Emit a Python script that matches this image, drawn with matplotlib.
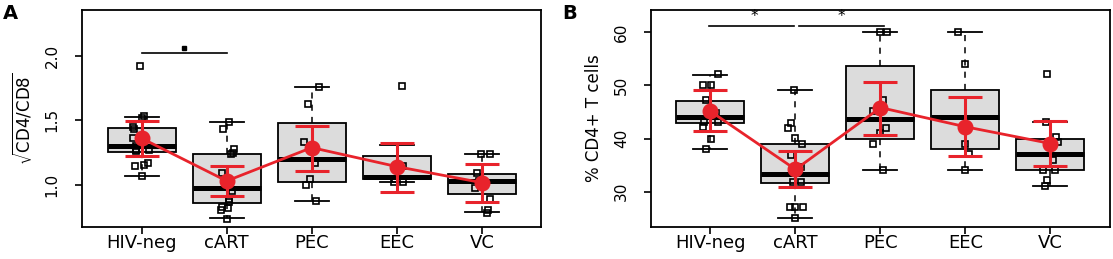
import matplotlib
matplotlib.use("Agg")
import matplotlib.pyplot as plt
import numpy as np

groups = ["HIV-neg", "cART", "PEC", "EEC", "VC"]

# panel A: sqrt(CD4/CD8)
a_pts = [
    [1.92, 1.534, 1.52, 1.45, 1.43, 1.36, 1.30, 1.27, 1.27, 1.26, 1.17, 1.155, 1.147, 1.07],
    [1.49, 1.43, 1.28, 1.245, 1.24, 1.09, 0.95, 0.89, 0.87, 0.83, 0.81, 0.82, 0.74],
    [1.76, 1.626, 1.335, 1.168, 1.05, 1.0, 0.876],
    [1.768, 1.15, 1.05, 1.026, 1.02],
    [1.237, 1.237, 1.09, 1.03, 0.974, 0.889, 0.81, 0.78],
]
a_jit = [
    [-0.02, 0.03, 0.01, -0.10, -0.09, -0.10, -0.06, -0.06, 0.09, -0.06, 0.08, 0.03, -0.08, 0.0],
    [0.03, -0.04, 0.09, 0.07, 0.05, -0.05, 0.06, 0.03, 0.03, -0.06, -0.07, 0.01, 0.0],
    [0.09, -0.04, -0.09, 0.035, -0.02, -0.07, 0.05],
    [0.06, 0.07, -0.02, 0.07, -0.035],
    [-0.015, 0.09, -0.055, -0.04, -0.08, 0.09, 0.075, 0.055],
]
a_q1 = [1.258, 0.863, 1.026, 1.046, 0.928]
a_med = [1.304, 0.974, 1.20, 1.064, 1.031]
a_q3 = [1.443, 1.237, 1.477, 1.227, 1.085]
a_wlo = [1.072, 0.742, 0.876, 1.026, 0.789]
a_whi = [1.528, 1.485, 1.76, 1.31, 1.237]
a_mean = [1.361, 1.031, 1.289, 1.142, 1.018]
a_lo = [1.227, 0.918, 1.111, 0.943, 0.866]
a_hi = [1.497, 1.149, 1.456, 1.327, 1.16]

# panel B: % CD4+ T cells
b_pts = [
    [52.06, 50, 50, 47.2, 44.7, 43.1, 43.1, 42.2, 40, 38],
    [49.06, 43, 42.06, 40.1, 39, 36.9, 34.7, 31.9, 31.9, 27.06, 27.06, 27.06, 25],
    [60, 60, 47.2, 45.1, 42.06, 41.06, 39.06, 34.06],
    [60, 54.06, 39.06, 37.06, 34.06],
    [52.06, 43.1, 40.3, 39.4, 35.9, 34, 34, 32.2, 31.06],
]
b_jit = [
    [0.09, -0.09, 0.01, -0.05, 0.07, -0.08, 0.09, -0.09, 0.01, -0.05],
    [-0.02, -0.05, -0.09, 0.0, 0.08, -0.05, 0.07, 0.07, -0.03, -0.07, 0.09, 0.0, 0.0],
    [0.0, 0.08, 0.03, -0.09, 0.07, 0.0, -0.09, 0.03],
    [-0.09, 0.0, 0.0, 0.04, 0.0],
    [-0.04, -0.05, 0.07, 0.09, 0.03, -0.09, 0.05, -0.04, -0.07],
]
b_q1 = [43, 31.6, 40, 38, 34.06]
b_med = [44.06, 33.25, 43.6, 44.06, 37.06]
b_q3 = [47, 39, 53.56, 49.06, 40]
b_wlo = [38, 25, 34.06, 34.06, 31.06]
b_whi = [52, 49.06, 60, 60, 43.1]
b_mean = [45.1, 34.2, 45.8, 42.2, 39.06]
b_lo = [41.4, 30.9, 40.75, 36.7, 34.9]
b_hi = [49.06, 37.6, 50.6, 47.7, 43.3]

RED = "#e8232b"

fig = plt.figure(figsize=(11.13, 2.59), dpi=100)
axA = fig.add_axes([0.0737, 0.1236, 0.4128, 0.8397])
axB = fig.add_axes([0.5849, 0.1236, 0.4124, 0.8397])

def panel(ax, pts, jit, q1, med, q3, wlo, whi, mean, lo, hi):
    x = np.arange(1, len(groups) + 1)
    stats = []
    for i in range(len(groups)):
        stats.append(dict(med=med[i], q1=q1[i], q3=q3[i], whislo=wlo[i], whishi=whi[i], fliers=[]))
    ax.bxp(stats, positions=x, widths=0.8, patch_artist=True, showfliers=False,
           boxprops=dict(facecolor="#dcdcdc", edgecolor="black", linewidth=1.3),
           medianprops=dict(color="black", linewidth=3.6),
           whiskerprops=dict(color="black", linewidth=1.1, linestyle=(0, (4, 4))),
           capprops=dict(color="black", linewidth=1.3), capwidths=0.4, zorder=1)
    for i in range(len(groups)):
        ax.plot(x[i] + np.array(jit[i]), pts[i], "s", mfc="none", mec="black",
                ms=5, mew=1.2, zorder=2)
    m = np.array(mean)
    ax.errorbar(x, m, yerr=[m - np.array(lo), np.array(hi) - m], color=RED, lw=2,
                elinewidth=2.2, capsize=12, capthick=2.2, marker="o", ms=10.5, zorder=3)
    ax.set_xlim(0.3, 5.7)
    ax.set_xticks(x)
    ax.set_xticklabels(groups, fontsize=13)
    ax.tick_params(axis="x", length=5, width=1.2, pad=0)
    ax.tick_params(axis="y", length=5, width=1.2, pad=11, labelsize=11)
    for s in ax.spines.values():
        s.set_linewidth(1.3)

panel(axA, a_pts, a_jit, a_q1, a_med, a_q3, a_wlo, a_whi, a_mean, a_lo, a_hi)
axA.set_ylim(0.675, 2.357)
axA.set_yticks([1.0, 1.5, 2.0])
axA.set_yticklabels(["1.0", "1.5", "2.0"], rotation=90, va="center")
axA.set_ylabel(r"$\sqrt{\mathrm{CD4/CD8}}$", fontsize=12, labelpad=8)
axA.plot([1, 2], [2.02, 2.02], color="black", lw=1.2)
axA.plot([1.5], [2.06], "s", color="black", ms=3)

panel(axB, b_pts, b_jit, b_q1, b_med, b_q3, b_wlo, b_whi, b_mean, b_lo, b_hi)
axB.set_ylim(23.4, 64.2)
axB.set_yticks([30, 40, 50, 60])
axB.set_yticklabels(["30", "40", "50", "60"], rotation=90, va="center")
axB.set_ylabel("% CD4+ T cells", fontsize=12, labelpad=8)
axB.plot([0.98, 1.98], [61.1, 61.1], color="black", lw=1.2)
axB.plot([2.04, 3.04], [61.1, 61.1], color="black", lw=1.2)
axB.text(1.52, 61.4, "*", ha="center", va="bottom", fontsize=11)
axB.text(2.54, 61.4, "*", ha="center", va="bottom", fontsize=11)

fig.text(0.003, 0.985, "A", fontsize=14, fontweight="bold", va="top")
fig.text(0.505, 0.985, "B", fontsize=14, fontweight="bold", va="top")

fig.savefig("out.png", dpi=100)
